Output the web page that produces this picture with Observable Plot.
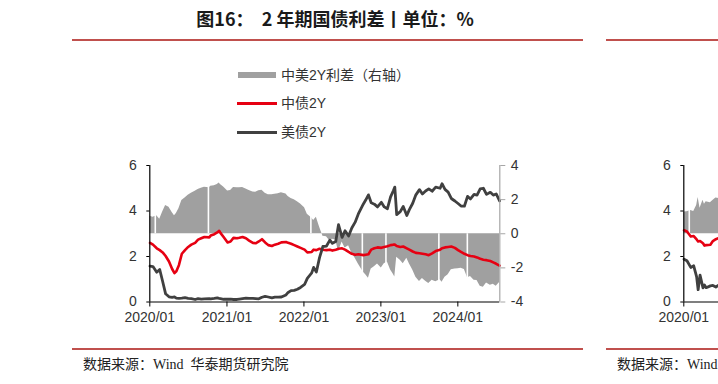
<!DOCTYPE html>
<html>
<head>
<meta charset="utf-8">
<script src="https://cdn.jsdelivr.net/npm/d3@7"></script>
<script src="https://cdn.jsdelivr.net/npm/@observablehq/plot@0.6"></script>
<style>
html, body { margin:0; padding:0; width:718px; height:384px; overflow:hidden; background:#fff; }
.panel { position:absolute; top:0; width:718px; height:384px; }
.abs { position:absolute; white-space:nowrap; }
.title { top:6px; left:0; width:670px; text-align:center; font-family:"Noto Sans CJK SC", sans-serif; font-weight:700; font-size:18px; line-height:24px; color:#1a1a1a; white-space:pre; }
.hr { height:2px; background:#c0504d; left:72px; width:511px; }
.caption { left:83px; top:355px; font-family:"Liberation Serif", "Noto Sans CJK SC", serif; font-size:14px; line-height:20px; color:#222; white-space:pre; }
.leg { font-family:"Liberation Sans", "Noto Sans CJK SC", sans-serif; font-size:14px; line-height:18px; color:#333; left:281px; }
.sw { left:237px; width:40px; }
svg.chart { position:absolute; left:0; top:0; overflow:visible; }
</style>
</head>
<body>
<script>
// ---------- Panel 1: 2Y ----------
const dates2y = [
  "2020-01-02","2020-01-16","2020-02-03","2020-02-17","2020-03-02","2020-03-16","2020-04-01","2020-04-16","2020-04-27","2020-05-06","2020-05-18","2020-06-01","2020-06-16","2020-07-01","2020-07-16","2020-08-03","2020-08-17","2020-09-01","2020-09-16","2020-10-09","2020-10-16","2020-11-02","2020-11-16","2020-11-25","2020-12-01","2020-12-16",
  "2021-01-04","2021-01-18","2021-02-01","2021-02-18","2021-03-01","2021-03-16","2021-04-01","2021-04-16","2021-05-04","2021-05-17","2021-06-01","2021-06-16","2021-07-01","2021-07-16","2021-08-02","2021-08-16","2021-09-01","2021-09-16","2021-10-08","2021-10-18","2021-11-01","2021-11-16","2021-12-01","2021-12-16",
  "2022-01-04","2022-01-17","2022-02-07","2022-02-16","2022-03-01","2022-03-16","2022-04-01","2022-04-18","2022-05-04","2022-05-16","2022-06-01","2022-06-14","2022-07-01","2022-07-15","2022-08-01","2022-08-16","2022-09-01","2022-09-16","2022-10-10","2022-10-21","2022-11-03","2022-11-16","2022-12-01","2022-12-16",
  "2023-01-03","2023-01-17","2023-02-01","2023-02-16","2023-03-01","2023-03-08","2023-03-17","2023-04-03","2023-04-17","2023-05-04","2023-05-16","2023-06-01","2023-06-16","2023-07-03","2023-07-17","2023-08-01","2023-08-16","2023-09-01","2023-09-18","2023-10-09","2023-10-18","2023-11-01","2023-11-16","2023-12-01","2023-12-18",
  "2024-01-02","2024-01-16","2024-02-01","2024-02-16","2024-03-01","2024-03-18","2024-04-01","2024-04-16","2024-05-01","2024-05-16","2024-06-03","2024-06-17","2024-07-01","2024-07-17"
];
const cn2y = [
  2.60,2.52,2.36,2.28,2.18,2.02,1.78,1.45,1.27,1.35,1.62,2.12,2.28,2.42,2.52,2.60,2.74,2.80,2.86,2.84,2.92,2.98,3.06,3.13,3.04,2.86,
  2.62,2.66,2.82,2.80,2.82,2.86,2.80,2.70,2.60,2.58,2.66,2.76,2.62,2.50,2.46,2.52,2.56,2.62,2.64,2.60,2.56,2.50,2.44,2.38,
  2.30,2.18,2.20,2.30,2.28,2.34,2.30,2.28,2.30,2.26,2.30,2.34,2.36,2.30,2.20,2.12,2.08,2.10,2.06,2.08,2.10,2.30,2.36,2.40,
  2.38,2.42,2.45,2.50,2.52,2.52,2.46,2.42,2.44,2.36,2.30,2.22,2.16,2.14,2.12,2.10,2.06,2.14,2.24,2.30,2.36,2.40,2.42,2.44,2.38,
  2.28,2.20,2.12,2.06,2.02,2.00,1.96,1.90,1.86,1.84,1.80,1.74,1.68,1.60
];
const us2y = [
  1.58,1.56,1.31,1.43,0.90,0.36,0.23,0.20,0.22,0.17,0.16,0.17,0.19,0.16,0.15,0.11,0.15,0.13,0.14,0.15,0.14,0.16,0.18,0.16,0.15,0.12,
  0.12,0.13,0.11,0.11,0.13,0.15,0.17,0.16,0.16,0.15,0.14,0.21,0.25,0.22,0.18,0.21,0.21,0.22,0.31,0.42,0.50,0.51,0.56,0.64,
  0.77,1.04,1.28,1.52,1.32,1.95,2.44,2.46,2.72,2.58,2.66,3.40,2.84,3.13,2.90,3.25,3.51,3.87,4.31,4.48,4.71,4.36,4.30,4.18,
  4.38,4.18,4.10,4.62,4.89,5.05,3.84,3.97,4.20,3.80,4.06,4.34,4.71,4.94,4.75,4.88,4.97,4.87,5.05,5.00,5.20,4.95,4.83,4.55,4.44,
  4.33,4.22,4.21,4.64,4.53,4.73,4.70,4.97,5.00,4.73,4.82,4.70,4.75,4.45
];
// holiday gaps visible in the spread bars
const gapDates2y = ["2020-01-27","2020-10-05","2022-02-03","2022-10-05","2023-01-25","2023-10-03","2024-02-15"];

// ---------- Panel 2 (partially visible at the right edge): 10Y ----------
const dates10y = ["2020-01-02","2020-01-16","2020-02-03","2020-02-17","2020-03-02","2020-03-09","2020-03-18","2020-04-01","2020-04-08","2020-04-16","2020-05-06","2020-05-18","2020-06-01","2020-06-16","2020-07-01","2020-07-16"];
const cn10y = [3.15,3.10,2.88,2.90,2.75,2.66,2.68,2.58,2.48,2.50,2.52,2.68,2.76,2.82,2.88,3.00];
const us10y = [1.88,1.81,1.52,1.59,1.10,0.54,1.18,0.62,0.75,0.63,0.71,0.73,0.66,0.75,0.66,0.62];
const gapDates10y = ["2020-01-27"];

// ---------- shared axis settings ----------
const xTickLabels = ["2020/01","2021/01","2022/01","2023/01","2024/01"];
const xDomainLabels = ["2020-01-01","2024-07-18"];
const leftTicks = [0, 2, 4, 6];
const rightTicks = [-4, -2, 0, 2, 4];

const panels = [
  {offset: 0, title: "图16：  2 年期国债利差丨单位：%",
   legend: ["中美2Y利差（右轴）", "中债2Y", "美债2Y"],
   dates: dates2y, cn: cn2y, us: us2y, gaps: gapDates2y},
  {offset: 534, title: "图17：  10 年期国债利差丨单位：%",
   legend: ["中美10Y利差（右轴）", "中债10Y", "美债10Y"],
   dates: dates10y, cn: cn10y, us: us10y, gaps: gapDates10y}
];

const COLORS = {spread: "#a0a0a0", cn: "#e60012", us: "#404040"};
const toLeft = r => (r + 4) * 0.75; // right axis [-4,4] -> left axis [0,6]
const parseYM = d3.utcParse("%Y/%m");
const xTicks = xTickLabels.map(parseYM);
const xDomain = xDomainLabels.map(s => new Date(s));

function el(parent, cls, styles, text) {
  const e = document.createElement("div");
  e.className = "abs " + cls;
  Object.assign(e.style, styles || {});
  if (text != null) e.textContent = text;
  parent.appendChild(e);
  return e;
}

for (const p of panels) {
  const panel = document.createElement("div");
  panel.className = "panel";
  panel.style.left = p.offset + "px";
  document.body.appendChild(panel);

  const rows = p.dates.map((d, i) => ({date: new Date(d), cn: p.cn[i], us: p.us[i], spread: p.cn[i] - p.us[i]}));
  const bis = d3.bisector(d => d.date).left;
  const spreadAt = dt => {
    const i = Math.max(1, Math.min(rows.length - 1, bis(rows, dt)));
    const a = rows[i - 1], b = rows[i];
    const t = (dt - a.date) / (b.date - a.date);
    return a.spread + (b.spread - a.spread) * Math.max(0, Math.min(1, t));
  };
  const gapRows = p.gaps.map(g => { const dt = new Date(g); const s = spreadAt(dt); return {date: dt, s}; });

  const chart = Plot.plot({
    width: 718, height: 384,
    marginLeft: 149.3, marginRight: 218.7, marginTop: 165, marginBottom: 82.5,
    x: {type: "utc", domain: xDomain, label: null},
    y: {domain: [0, 6], label: null},
    style: {fontFamily: "'Liberation Sans', Arial, sans-serif", fontSize: "14px", background: "transparent", overflow: "visible"},
    marks: [
      Plot.areaY(rows, {x: "date", y1: () => toLeft(0), y2: d => toLeft(d.spread), fill: COLORS.spread}),
      Plot.ruleX(gapRows, {x: "date", y1: () => toLeft(0), y2: d => toLeft(d.s + Math.sign(d.s) * 0.6), stroke: "#fff", strokeWidth: 1.6}),
      Plot.line(rows, {x: "date", y: "cn", stroke: COLORS.cn, strokeWidth: 2.6}),
      Plot.line(rows, {x: "date", y: "us", stroke: COLORS.us, strokeWidth: 2.8}),
      Plot.ruleX([xDomain[1]], {stroke: "#a6a6a6", strokeWidth: 1.2}),
      Plot.ruleX([xDomain[0]], {stroke: "#000", strokeWidth: 1.2}),
      Plot.ruleY([0], {stroke: "#000", strokeWidth: 1.2}),
      Plot.axisY({anchor: "left", ticks: leftTicks, tickFormat: d => String(d), tickSize: 3, tickPadding: 10, stroke: "#000", fill: "#333", label: null}),
      Plot.axisY({anchor: "right", ticks: rightTicks.map(toLeft), tickFormat: v => { const r = Math.round(v / 0.75 - 4); return r < 0 ? "-" + (-r) : String(r); }, tickSize: 5, tickPadding: 6, stroke: "#a6a6a6", fill: "#333", label: null}),
      Plot.axisX({ticks: xTicks, tickFormat: d3.utcFormat("%Y/%m"), tickSize: 5, tickPadding: 5, stroke: "#000", fill: "#333", label: null})
    ]
  });
  chart.classList.add("chart");
  panel.appendChild(chart);

  el(panel, "title", {}, p.title);
  el(panel, "hr", {top: "39px"});
  el(panel, "hr", {top: "348px"});
  el(panel, "caption", {}, "数据来源：Wind  华泰期货研究院");

  // legend
  el(panel, "sw", {top: "72px", height: "6px", background: COLORS.spread, left: "238px", width: "38px"});
  el(panel, "leg", {top: "66px"}, p.legend[0]);
  el(panel, "sw", {top: "102px", height: "3px", background: COLORS.cn});
  el(panel, "leg", {top: "94px"}, p.legend[1]);
  el(panel, "sw", {top: "131px", height: "3px", background: COLORS.us});
  el(panel, "leg", {top: "123px"}, p.legend[2]);
}
</script>
</body>
</html>
